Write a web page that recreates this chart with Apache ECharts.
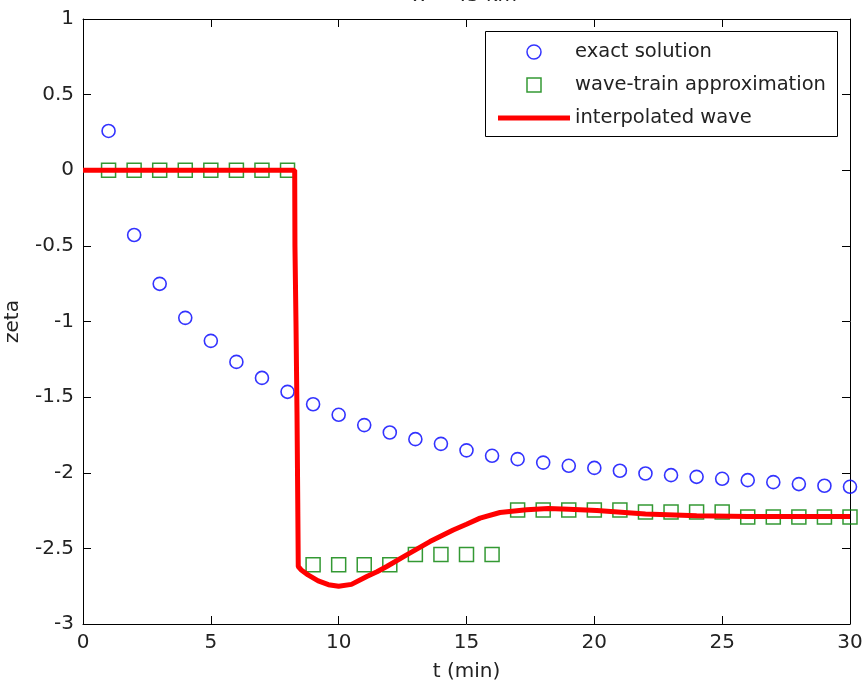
<!DOCTYPE html>
<html><head><meta charset="utf-8">
<script src="https://cdn.jsdelivr.net/npm/echarts@6/dist/echarts.min.js"></script>
<style>html,body{margin:0;padding:0;background:#fff}#c{width:864px;height:682px}</style>
</head><body><div id="c"></div>
<script>
const titleText = 'x = 45 km';
const xLabel = 't (min)';
const yLabel = 'zeta';
const legendNames = ['exact solution', 'wave-train approximation', 'interpolated wave'];

const tExact = [1,2,3,4,5,6,7,8,9,10,11,12,13,14,15,16,17,18,19,20,21,22,23,24,25,26,27,28,29,30];
const zetaExact = [0.26,-0.428,-0.751,-0.976,-1.128,-1.267,-1.373,-1.465,-1.547,-1.617,
  -1.685,-1.734,-1.778,-1.809,-1.852,-1.888,-1.910,-1.933,-1.954,-1.968,
  -1.987,-2.005,-2.016,-2.027,-2.040,-2.049,-2.062,-2.075,-2.086,-2.093];

const tTrain = [1,2,3,4,5,6,7,8,9,10,11,12,13,14,15,16,17,18,19,20,21,22,23,24,25,26,27,28,29,30];
const zetaTrain = [0,0,0,0,0,0,0,0,-2.609,-2.609,-2.609,-2.609,-2.541,-2.541,-2.541,-2.541,
  -2.247,-2.247,-2.247,-2.247,-2.247,-2.260,-2.260,-2.260,-2.260,-2.293,-2.293,-2.293,-2.293,-2.293];

const tWave = [0,8.28,8.29,8.33,8.37,8.40,8.42,8.55,8.8,9.2,9.6,10,10.5,11.1,11.5,11.88,12.66,13.57,14.48,15.0,15.53,16.31,17.35,18.2,19,20.1,22,24,26,30];
const zetaWave = [0,0,-0.5,-1.0,-1.6,-2.2,-2.62,-2.645,-2.675,-2.715,-2.74,-2.75,-2.738,-2.686,-2.655,-2.62,-2.543,-2.455,-2.378,-2.34,-2.30,-2.263,-2.245,-2.237,-2.242,-2.25,-2.272,-2.285,-2.289,-2.289];

const xTicks = {min: 0, max: 30, interval: 5};
const yTicks = {min: -3, max: 1, interval: 0.5};

const zip = (a, b) => a.map((v, i) => [v, b[i]]);
const FONT = 'DejaVu Sans';
const TXT = '#222';

const chart = echarts.init(document.getElementById('c'), null, {renderer: 'canvas'});
const axisCommon = {
  type: 'value',
  axisLine: {show: true, onZero: false, lineStyle: {color: '#000', width: 1}},
  axisTick: {show: true, inside: true, length: 8, lineStyle: {color: '#000', width: 1}},
  splitLine: {show: false}
};
chart.setOption({
  animation: false,
  backgroundColor: '#fff',
  grid: {left: 83, right: 14, top: 19, bottom: 58, containLabel: false, outerBoundsMode: 'none'},
  graphic: [
    {type: 'text', x: 465, y: -4, silent: true,
      style: {text: titleText, fontSize: 20, fontFamily: FONT, fill: TXT, align: 'center', verticalAlign: 'middle'}},
    {type: 'rect', shape: {x: 485.5, y: 31.5, width: 352, height: 105}, silent: true, z: 10,
      style: {fill: 'none', stroke: '#000', lineWidth: 1}}
  ],
  xAxis: [
    Object.assign({}, axisCommon, xTicks, {position: 'bottom',
      name: xLabel, nameLocation: 'middle', nameGap: 38,
      nameTextStyle: {fontSize: 20, fontFamily: FONT, color: TXT},
      axisLabel: {margin: 9, fontSize: 20, fontFamily: FONT, color: TXT}}),
    Object.assign({}, axisCommon, xTicks, {position: 'top', axisLabel: {show: false}})
  ],
  yAxis: [
    Object.assign({}, axisCommon, yTicks, {position: 'left',
      name: yLabel, nameLocation: 'middle', nameGap: 60, nameRotate: 90,
      nameTextStyle: {fontSize: 20, fontFamily: FONT, color: TXT},
      axisLabel: {margin: 9, fontSize: 20, fontFamily: FONT, color: TXT}}),
    Object.assign({}, axisCommon, yTicks, {position: 'right', axisLabel: {show: false}})
  ],
  legend: {
    left: 498, top: 42, orient: 'vertical', padding: 0,
    itemWidth: 72, itemHeight: 14, itemGap: 13,
    symbolKeepAspect: true,
    textStyle: {fontSize: 19.5, fontFamily: FONT, color: TXT},
    data: [
      {name: legendNames[0], icon: 'path://M7 0A7 7 0 1 1 6.99 0Z',
        itemStyle: {color: 'rgba(0,0,0,0)', borderColor: '#0000ff', borderWidth: 1.5}},
      {name: legendNames[1], icon: 'path://M0 0H14V14H0Z',
        itemStyle: {color: 'rgba(0,0,0,0)', borderColor: '#008000', borderWidth: 1.5}},
      {name: legendNames[2], icon: 'path://M0 0H72V5H0Z',
        itemStyle: {color: '#ff0000', borderWidth: 0}}
    ]
  },
  series: [
    {name: legendNames[0], type: 'scatter', data: zip(tExact, zetaExact),
      symbol: 'circle', symbolSize: 13, z: 2,
      itemStyle: {color: 'rgba(0,0,0,0)', borderColor: '#0000ff', borderWidth: 1.6}},
    {name: legendNames[1], type: 'scatter', data: zip(tTrain, zetaTrain),
      symbol: 'rect', symbolSize: 14, z: 2,
      itemStyle: {color: 'rgba(0,0,0,0)', borderColor: '#008000', borderWidth: 1.5}},
    {name: legendNames[2], type: 'line', data: zip(tWave, zetaWave),
      showSymbol: false, symbol: 'none', z: 3,
      lineStyle: {color: '#ff0000', width: 5}, itemStyle: {color: '#ff0000'}}
  ]
});
</script></body></html>
